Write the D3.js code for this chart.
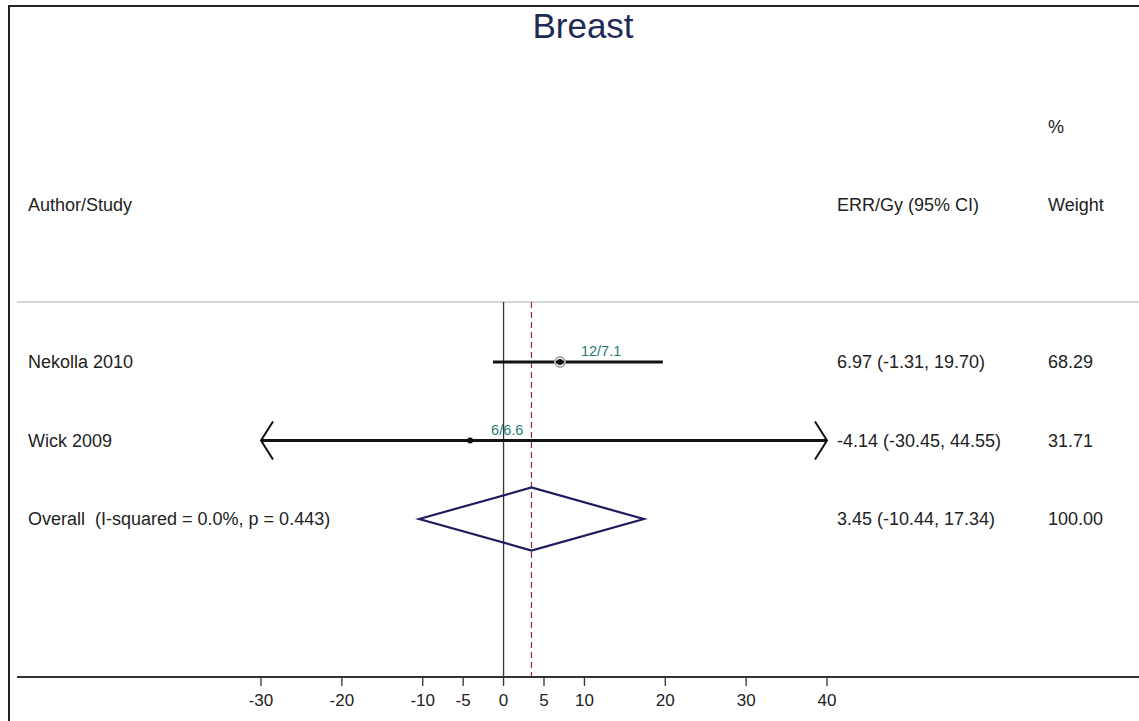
<!DOCTYPE html>
<html>
<head>
<meta charset="utf-8">
<script src="https://cdn.jsdelivr.net/npm/d3@7"></script>
<style>
  body { margin: 0; background: #fff; }
  text { font-family: "Liberation Sans", Arial, sans-serif; fill: #222; white-space: pre; }
</style>
</head>
<body>
<svg id="chart"></svg>
<script>
// Data
const studies = ["Nekolla 2010", "Wick 2009"];
const estimates = [6.97, -4.14];
const lowerCI = [-1.31, -30.45];
const upperCI = [19.7, 44.55];
const weights = ["68.29", "31.71"];
const caseLabels = ["12/7.1", "6/6.6"];
const overallLabel = ["Overall  (I-squared = 0.0%, p = 0.443)"];
const overallValues = [3.45, -10.44, 17.34]; // est, lower, upper
const overallWeight = ["100.00"];
const xTicks = [-30, -20, -10, -5, 0, 5, 10, 20, 30, 40];

const width = 1139, height = 721;
const fontSize = 18;

const svg = d3.select("#chart").attr("width", width).attr("height", height);

// scales
const x = d3.scaleLinear().domain([-30, 40]).range([261, 827]);
const y = d3.scaleLinear().domain([0, 2]).range([362, 519]);

const colLabel = 28, colCI = 837, colWeight = 1048;
const plotTop = 302, axisY = 677;

// plain hyphen for negatives, like the original
const fmt = v => v.toFixed(2);
const ciText = (e, l, u) => fmt(e) + " (" + fmt(l) + ", " + fmt(u) + ")";

// frame (top and left)
svg.append("path")
  .attr("d", "M9," + height + "V6H" + width)
  .attr("fill", "none")
  .attr("stroke", "#222")
  .attr("stroke-width", 2);

// title
svg.append("text")
  .attr("x", 583).attr("y", 38)
  .attr("text-anchor", "middle")
  .style("font-size", "35px")
  .style("fill", "#1f2a56")
  .text("Breast");

// headers
svg.append("text").attr("x", colWeight).attr("y", y(-3)).attr("dy", "0.35em")
  .style("font-size", fontSize + "px").text("%");
svg.append("text").attr("x", colLabel).attr("y", y(-2)).attr("dy", "0.35em")
  .style("font-size", fontSize + "px").text("Author/Study");
svg.append("text").attr("x", colCI).attr("y", y(-2)).attr("dy", "0.35em")
  .style("font-size", fontSize + "px").text("ERR/Gy (95% CI)");
svg.append("text").attr("x", colWeight).attr("y", y(-2)).attr("dy", "0.35em")
  .style("font-size", fontSize + "px").text("Weight");

// separator
svg.append("line")
  .attr("x1", 17).attr("x2", width)
  .attr("y1", plotTop).attr("y2", plotTop)
  .attr("stroke", "#c8c8c8").attr("stroke-width", 1.5);

// null line
svg.append("line")
  .attr("x1", x(0)).attr("x2", x(0))
  .attr("y1", plotTop).attr("y2", axisY)
  .attr("stroke", "#333").attr("stroke-width", 1.3);

// overall estimate dashed line
svg.append("line")
  .attr("x1", x(overallValues[0])).attr("x2", x(overallValues[0]))
  .attr("y1", plotTop).attr("y2", axisY)
  .attr("stroke", "#9a2a3a").attr("stroke-width", 1.2)
  .attr("stroke-dasharray", "6,4");

// x axis
const axis = svg.append("g")
  .attr("transform", "translate(0," + axisY + ")");
axis.append("line")
  .attr("x1", 17).attr("x2", width)
  .attr("stroke", "#333").attr("stroke-width", 2);
axis.selectAll(".tick")
  .data(xTicks)
  .enter().append("line")
  .attr("x1", d => x(d)).attr("x2", d => x(d))
  .attr("y1", 0).attr("y2", 9)
  .attr("stroke", "#333").attr("stroke-width", 1.3);
axis.selectAll(".tlabel")
  .data(xTicks)
  .enter().append("text")
  .attr("x", d => x(d)).attr("y", 29)
  .attr("text-anchor", "middle")
  .style("font-size", "17px")
  .text(d => d);

// study rows
const [dMin, dMax] = x.domain();
studies.forEach((name, i) => {
  const yy = y(i);
  const l = Math.max(lowerCI[i], dMin), u = Math.min(upperCI[i], dMax);

  svg.append("line")
    .attr("x1", x(l)).attr("x2", x(u))
    .attr("y1", yy).attr("y2", yy)
    .attr("stroke", "#111").attr("stroke-width", 3);

  // arrows where the CI runs off the axis
  if (lowerCI[i] < dMin) {
    svg.append("path")
      .attr("d", "M" + (x(dMin) + 12) + "," + (yy - 19) + "L" + x(dMin) + "," + yy + "L" + (x(dMin) + 12) + "," + (yy + 19))
      .attr("fill", "none").attr("stroke", "#111").attr("stroke-width", 2);
  }
  if (upperCI[i] > dMax) {
    svg.append("path")
      .attr("d", "M" + (x(dMax) - 12) + "," + (yy - 19) + "L" + x(dMax) + "," + yy + "L" + (x(dMax) - 12) + "," + (yy + 19))
      .attr("fill", "none").attr("stroke", "#111").attr("stroke-width", 2);
  }

  // weight marker: only the bigger study shows a visible circle
  if (i === 0) {
    svg.append("circle")
      .attr("cx", x(estimates[i])).attr("cy", yy).attr("r", 5)
      .attr("fill", "none").attr("stroke", "#aaa").attr("stroke-width", 2);
  }
  svg.append("circle")
    .attr("cx", x(estimates[i])).attr("cy", yy).attr("r", 3)
    .attr("fill", "#111");

  svg.append("text")
    .attr("x", x(estimates[i]) + 21).attr("y", yy - 6)
    .style("font-size", "14.5px").style("fill", "#2a7a70")
    .text(caseLabels[i]);

  svg.append("text").attr("x", colLabel).attr("y", yy).attr("dy", "0.35em")
    .style("font-size", fontSize + "px").text(name);
  svg.append("text").attr("x", colCI).attr("y", yy).attr("dy", "0.35em")
    .style("font-size", fontSize + "px").text(ciText(estimates[i], lowerCI[i], upperCI[i]));
  svg.append("text").attr("x", colWeight).attr("y", yy).attr("dy", "0.35em")
    .style("font-size", fontSize + "px").text(weights[i]);
});

// overall diamond
const oy = y(2), half = 31.5;
const [oe, ol, ou] = overallValues;
svg.append("path")
  .attr("d", "M" + x(ol) + "," + oy + "L" + x(oe) + "," + (oy - half) + "L" + x(ou) + "," + oy + "L" + x(oe) + "," + (oy + half) + "Z")
  .attr("fill", "none").attr("stroke", "#1c1c5e").attr("stroke-width", 2.2);

svg.append("text").attr("x", colLabel).attr("y", oy).attr("dy", "0.35em")
  .style("font-size", fontSize + "px").text(overallLabel[0]);
svg.append("text").attr("x", colCI).attr("y", oy).attr("dy", "0.35em")
  .style("font-size", fontSize + "px").text(ciText(oe, ol, ou));
svg.append("text").attr("x", colWeight).attr("y", oy).attr("dy", "0.35em")
  .style("font-size", fontSize + "px").text(overallWeight[0]);
</script>
</body>
</html>
